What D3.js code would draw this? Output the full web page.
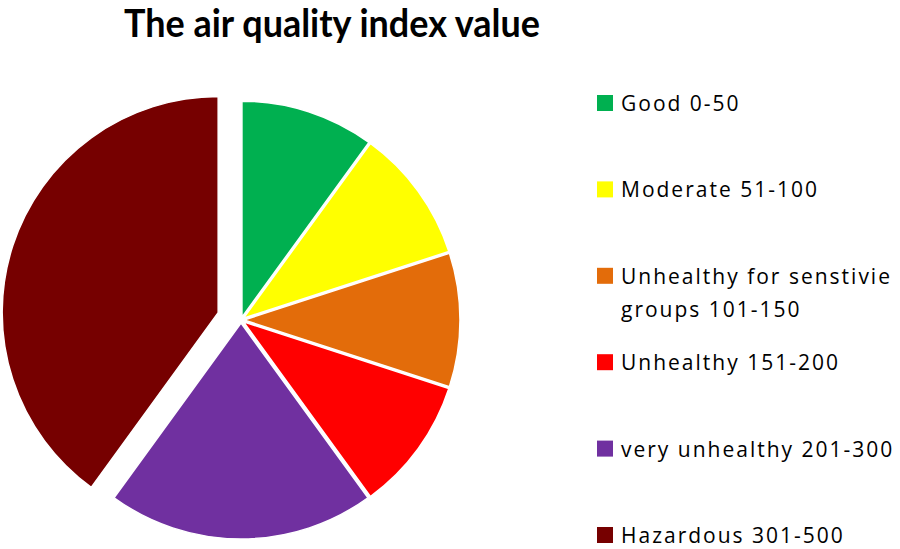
<!DOCTYPE html>
<html>
<head>
<meta charset="utf-8">
<script src="https://cdn.jsdelivr.net/npm/d3@7"></script>
<style>
  html, body { margin: 0; padding: 0; background: #ffffff; }
  svg { display: block; }
</style>
</head>
<body>
<svg id="chart" width="900" height="549"></svg>
<script>
// ---- data ----
const title = "The air quality index value";
const categories = [
  "Good 0-50",
  "Moderate 51-100",
  "Unhealthy for senstivie groups 101-150",
  "Unhealthy 151-200",
  "very unhealthy 201-300",
  "Hazardous 301-500"
];
const values = [50, 50, 50, 50, 100, 200];
const palette = ["#00B050", "#FFFF00", "#E36C0A", "#FF0000", "#7030A0", "#760000"];

// ---- layout ----
const W = 900, H = 549;
const cx = 241, cy = 320, radius = 216;
const smallExplode = 3, bigExplode = 24;

const svg = d3.select("#chart");

const color = d3.scaleOrdinal().domain(categories).range(palette);

const data = categories.map((c, i) => ({ name: c, value: values[i] }));

const pie = d3.pie().sort(null).value(d => d.value).startAngle(0).endAngle(2 * Math.PI);
const arc = d3.arc().innerRadius(0).outerRadius(radius);

const g = svg.append("g").attr("transform", `translate(${cx},${cy})`);

g.selectAll("path.slice")
  .data(pie(data))
  .join("path")
  .attr("class", "slice")
  .attr("d", arc)
  .attr("fill", d => color(d.data.name))
  .attr("stroke", "#ffffff")
  .attr("stroke-width", 1.5)
  .attr("transform", d => {
    const mid = (d.startAngle + d.endAngle) / 2;
    const off = d.data.name.startsWith("Hazardous") ? bigExplode : smallExplode;
    return `translate(${Math.sin(mid) * off},${-Math.cos(mid) * off})`;
  });

// ---- title ----
svg.append("text")
  .attr("x", 124)
  .attr("y", 37)
  .attr("font-family", "Lato, 'Open Sans', sans-serif")
  .attr("font-weight", 700)
  .attr("font-size", 39)
  .attr("fill", "#000")
  .attr("textLength", 416)
  .attr("lengthAdjust", "spacingAndGlyphs")
  .text(title);

// ---- legend ----
const legendY = d3.scalePoint().domain(categories).range([103, 535]);
const legendX = 597, sw = 16, maxTextW = 285;

const lg = svg.append("g");
const items = lg.selectAll("g.item").data(categories).join("g")
  .attr("class", "item")
  .attr("transform", d => `translate(${legendX},${legendY(d)})`);

items.append("rect")
  .attr("x", 0).attr("y", -sw / 2)
  .attr("width", sw).attr("height", sw)
  .attr("fill", d => color(d));

items.each(function (d) {
  const t = d3.select(this).append("text")
    .attr("x", 24)
    .attr("y", 8)
    .attr("font-family", "'Open Sans', sans-serif")
    .attr("font-size", 21)
    .attr("letter-spacing", "2px")
    .attr("fill", "#000");
  // simple word wrap
  const words = d.split(" ");
  let line = [];
  let tspan = t.append("tspan").attr("x", 24).attr("dy", 0);
  words.forEach(w => {
    line.push(w);
    tspan.text(line.join(" "));
    if (tspan.node().getComputedTextLength() > maxTextW && line.length > 1) {
      line.pop();
      tspan.text(line.join(" "));
      line = [w];
      tspan = t.append("tspan").attr("x", 24).attr("dy", 33).text(w);
    }
  });
});
</script>
</body>
</html>
